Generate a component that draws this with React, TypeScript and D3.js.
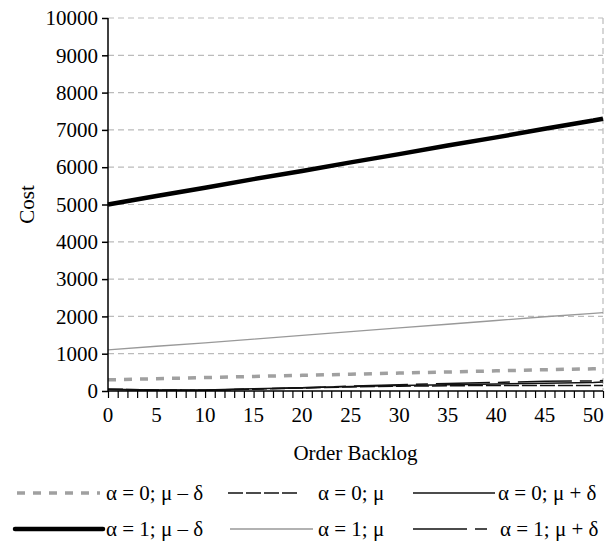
import * as d3 from "d3";
import { useEffect, useRef } from "react";

// x positions (order backlog) at which values were read
const backlog = [0, 5, 10, 15, 20, 25, 30, 35, 40, 45, 50, 51];

const a0MinusDelta = [300, 330, 360, 390, 420, 450, 480, 510, 540, 570, 595, 600];
const a0Mu = [50, 30, 20, 50, 80, 110, 130, 140, 150, 150, 150, 150];
const a0PlusDelta = [50, 30, 30, 60, 90, 120, 150, 170, 190, 210, 230, 240];
const a1MinusDelta = [5000, 5230, 5450, 5680, 5900, 6130, 6350, 6580, 6800, 7030, 7250, 7300];
const a1Mu = [1100, 1200, 1290, 1390, 1490, 1590, 1690, 1790, 1890, 1990, 2080, 2100];
const a1PlusDelta = [40, 20, 20, 50, 90, 130, 170, 200, 230, 260, 270, 280];

const yTicks = [0, 1000, 2000, 3000, 4000, 5000, 6000, 7000, 8000, 9000, 10000];
const xLabels = [0, 5, 10, 15, 20, 25, 30, 35, 40, 45, 50];

const seriesNames = [
  "α = 0; μ – δ",
  "α = 0; μ",
  "α = 0; μ + δ",
  "α = 1; μ – δ",
  "α = 1; μ",
  "α = 1; μ + δ",
];

const FONT = "'Liberation Serif', 'DejaVu Serif', serif";
const FS = "21px";

const App = () => {
  const svgRef = useRef<SVGSVGElement>(null);

  useEffect(() => {
    const width = 610;
    const height = 543;
    const margin = { top: 18, right: 7, bottom: 152, left: 108 };

    const svg = d3.select(svgRef.current);
    svg.selectAll("*").remove();
    svg.attr("width", width).attr("height", height).style("font-family", FONT);

    const x = d3.scaleLinear().domain([0, 51]).range([margin.left, width - margin.right]);
    const y = d3.scaleLinear().domain([0, 10000]).range([height - margin.bottom, margin.top]);

    const styles = [
      { color: "#a0a0a0", width: 3.5, dash: "8,8" },
      { color: "#111", width: 1.5, dash: "15,3" },
      { color: "#111", width: 1.5, dash: "" },
      { color: "#000", width: 4.5, dash: "" },
      { color: "#999", width: 1.3, dash: "" },
      { color: "#111", width: 1.5, dash: "54,8,12,8" },
    ];
    const values = [a0MinusDelta, a0Mu, a0PlusDelta, a1MinusDelta, a1Mu, a1PlusDelta];

    // gridlines
    const grid = svg.append("g");
    grid
      .selectAll("line")
      .data(yTicks.filter((t) => t > 0))
      .join("line")
      .attr("x1", x(0))
      .attr("x2", x(51))
      .attr("y1", (d) => y(d))
      .attr("y2", (d) => y(d))
      .attr("stroke", "#bbb")
      .attr("stroke-width", 1.2)
      .attr("stroke-dasharray", "6,4");
    grid
      .append("line")
      .attr("x1", x(51))
      .attr("x2", x(51))
      .attr("y1", y(10000))
      .attr("y2", y(0))
      .attr("stroke", "#bbb")
      .attr("stroke-width", 1.2)
      .attr("stroke-dasharray", "6,4");

    // series
    const line = d3
      .line<number>()
      .x((_, i) => x(backlog[i]))
      .y((d) => y(d));

    const order = [0, 4, 3, 1, 2, 5];
    order.forEach((i) => {
      svg
        .append("path")
        .attr("d", line(values[i]))
        .attr("fill", "none")
        .attr("stroke", styles[i].color)
        .attr("stroke-width", styles[i].width)
        .attr("stroke-dasharray", styles[i].dash || null);
    });

    // y axis
    const yAxis = svg
      .append("g")
      .attr("transform", `translate(${x(0)},0)`)
      .call(d3.axisLeft(y).tickValues(yTicks).tickSize(6).tickPadding(4).tickFormat(d3.format("d")));
    yAxis.attr("font-family", null).attr("font-size", null);
    yAxis.select(".domain").attr("d", `M0,${y(10000)}V${y(0)}`).attr("stroke-width", 1.5);
    yAxis.selectAll(".tick line").attr("stroke-width", 1.5);
    yAxis.selectAll("text").style("font-size", FS).attr("fill", "#000");

    // x axis
    const xAxis = svg
      .append("g")
      .attr("transform", `translate(0,${y(0)})`)
      .call(d3.axisBottom(x).tickValues(d3.range(0, 52)).tickSize(7).tickFormat(() => ""));
    xAxis.select(".domain").attr("d", `M${x(0)},0H${x(51)}`).attr("stroke-width", 1.5);
    xAxis.selectAll(".tick line").attr("stroke-width", 1.2);
    svg
      .append("g")
      .selectAll("text")
      .data(xLabels)
      .join("text")
      .attr("x", (d) => x(d))
      .attr("y", y(0) + 31)
      .attr("text-anchor", "middle")
      .style("font-size", FS)
      .text((d) => d);

    // axis titles
    svg
      .append("text")
      .attr("transform", `translate(34,${(y(0) + y(10000)) / 2}) rotate(-90)`)
      .attr("text-anchor", "middle")
      .style("font-size", FS)
      .text("Cost");
    svg
      .append("text")
      .attr("x", (x(0) + x(51)) / 2)
      .attr("y", 460)
      .attr("text-anchor", "middle")
      .style("font-size", FS)
      .text("Order Backlog");

    // legend
    const legendPos = [
      { x1: 17, x2: 100, tx: 106, y: 493 },
      { x1: 228, x2: 300, tx: 318, y: 493 },
      { x1: 413, x2: 495, tx: 498, y: 493 },
      { x1: 15, x2: 103, tx: 106, y: 529 },
      { x1: 230, x2: 313, tx: 318, y: 529 },
      { x1: 413, x2: 487, tx: 500, y: 529 },
    ];
    const legend = svg.append("g");
    seriesNames.forEach((name, i) => {
      const p = legendPos[i];
      legend
        .append("line")
        .attr("x1", p.x1)
        .attr("x2", p.x2)
        .attr("y1", p.y)
        .attr("y2", p.y)
        .attr("stroke", styles[i].color)
        .attr("stroke-width", styles[i].width)
        .attr("stroke-linecap", i === 3 ? "round" : "butt")
        .attr("stroke-dasharray", styles[i].dash || null);
      legend
        .append("text")
        .attr("x", p.tx)
        .attr("y", p.y + 7)
        .style("font-size", FS)
        .text(name);
    });
  }, []);

  return <svg ref={svgRef} style={{ position: "absolute", left: 0, top: 0 }}></svg>;
};

export default App;
